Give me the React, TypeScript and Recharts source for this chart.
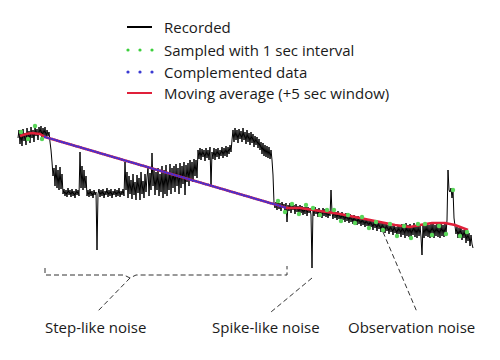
import { ComposedChart, Line, XAxis, YAxis } from 'recharts';

// =============================================================================
// Data (t = time step, v = signal level)
// =============================================================================

const recorded: [number, number][] = [
  // start, before the step noise
  [18, 122], [19, 130], [20, 116], [21, 128], [22, 114], [23, 131], [24, 119], [25, 127],
  [26, 115], [27, 132], [28, 121], [29, 129], [30, 117], [31, 133], [32, 122], [33, 130],
  [34, 118], [35, 134], [36, 124], [37, 131], [38, 120], [39, 133], [40, 125], [41, 134],
  [42, 121], [43, 132], [44, 124], [45, 133], [46, 122], [47, 130], [48, 124],
  // first drop
  [49, 128], [50, 118], [51, 110], [52, 98], [53, 84], [54, 92], [55, 74], [56, 95],
  [57, 72], [58, 90], [59, 70], [60, 93], [61, 71], [62, 86],
  [63, 66], [64, 71], [65, 64], [66, 70], [67, 63], [68, 72], [69, 65], [70, 70],
  [71, 63], [72, 71], [73, 64], [74, 69], [75, 62], [76, 71], [77, 65], [78, 70],
  [79, 64], [80, 108], [81, 72], [82, 94], [83, 70], [84, 90], [85, 72], [86, 84],
  [87, 64], [88, 70], [89, 63], [90, 71], [91, 64], [92, 69], [93, 62], [94, 70],
  [95, 65], [96, 68], [97, 10], [98, 66], [99, 71], [100, 63], [101, 70], [102, 64],
  [103, 71], [104, 62], [105, 69], [106, 65], [107, 72], [108, 63], [109, 70], [110, 64],
  [111, 71], [112, 62], [113, 69], [114, 65], [115, 71], [116, 63], [117, 70], [118, 64],
  [119, 72], [120, 63], [121, 69], [122, 65], [123, 71], [124, 64], [125, 98],
  [126, 70], [127, 88], [128, 62], [129, 84], [130, 66], [131, 80], [132, 61], [133, 86],
  [134, 65], [135, 78], [136, 60], [137, 85], [138, 67], [139, 82], [140, 60], [141, 88],
  [142, 66], [143, 79], [144, 62], [145, 86], [146, 68], [147, 83], [148, 92], [149, 64],
  [150, 87], [151, 70], [152, 107],
  [153, 74], [154, 90], [155, 65], [156, 88], [157, 70], [158, 92], [159, 64], [160, 86],
  [161, 68], [162, 94], [163, 62], [164, 90], [165, 66], [166, 95], [167, 64], [168, 88],
  [169, 70], [170, 96], [171, 66], [172, 92], [173, 72], [174, 94], [175, 68], [176, 96],
  [177, 74], [178, 92], [179, 66], [180, 97], [181, 72], [182, 94], [183, 76], [184, 98],
  [185, 65], [186, 95], [187, 78], [188, 97], [189, 74], [190, 100], [191, 80], [192, 98],
  [193, 78], [194, 101], [195, 84], [196, 100], [197, 82],
  // raised steps
  [198, 110], [199, 101], [200, 112], [201, 100], [202, 111], [203, 103], [204, 110], [205, 99],
  [206, 112], [207, 102], [208, 110], [209, 100], [210, 113], [211, 73], [212, 108], [213, 101],
  [214, 112], [215, 100], [216, 111], [217, 103], [218, 112], [219, 101], [220, 110], [221, 104],
  [222, 113], [223, 102], [224, 112], [225, 104], [226, 114], [227, 103], [228, 113], [229, 106],
  [230, 115], [231, 108],
  [232, 120], [233, 130], [234, 118], [235, 132], [236, 120], [237, 130], [238, 117], [239, 131],
  [240, 121], [241, 129], [242, 118], [243, 132], [244, 120], [245, 128], [246, 116], [247, 130],
  [248, 118], [249, 127], [250, 115], [251, 128], [252, 117], [253, 126], [254, 113], [255, 124],
  [256, 115], [257, 123], [258, 112], [259, 121],
  [260, 110], [261, 118], [262, 106], [263, 117], [264, 104], [265, 115], [266, 103], [267, 114],
  [268, 102], [269, 113], [270, 101], [271, 110], [272, 100], [273, 85], [274, 57],
  // back on track
  [275, 52], [276, 58], [277, 50], [278, 59], [279, 51], [280, 57], [281, 49], [282, 58],
  [283, 52], [284, 56], [285, 48], [286, 57], [287, 38], [288, 55], [289, 49], [290, 57],
  [291, 47], [292, 56], [293, 50], [294, 55], [295, 46], [296, 56], [297, 48], [298, 54],
  [299, 46], [300, 55], [301, 47], [302, 54], [303, 45], [304, 53], [305, 46], [306, 55],
  [307, 44], [308, 53], [309, 47], [310, 52], [311, 45], [312, -8], [313, 52], [314, 44],
  [315, 53], [316, 46], [317, 51], [318, 43], [319, 52], [320, 45], [321, 50], [322, 42],
  [323, 52], [324, 44], [325, 51], [326, 43], [327, 50], [328, 42], [329, 49], [330, 44],
  [331, 70], [332, 48], [333, 41], [334, 50], [335, 42], [336, 48], [337, 40], [338, 49],
  [339, 41], [340, 47], [341, 39], [342, 48], [343, 40], [344, 46], [345, 38], [346, 47],
  [347, 39], [348, 45], [349, 37], [350, 46], [351, 38], [352, 44], [353, 36], [354, 45],
  [355, 37], [356, 43], [357, 35], [358, 44], [359, 36], [360, 42], [361, 34], [362, 43],
  [363, 35], [364, 41], [365, 33], [366, 42], [367, 34], [368, 40], [369, 32], [370, 41],
  [371, 33], [372, 39], [373, 30], [374, 40], [375, 32], [376, 38], [377, 29], [378, 39],
  [379, 31], [380, 37], [381, 28], [382, 38], [383, 30], [384, 36], [385, 27], [386, 37],
  [387, 29], [388, 35], [389, 26], [390, 36], [391, 28], [392, 34], [393, 25], [394, 36],
  [395, 27], [396, 33], [397, 24], [398, 35], [399, 26], [400, 34], [401, 23], [402, 36],
  [403, 25], [404, 34], [405, 22], [406, 37], [407, 24], [408, 35], [409, 23], [410, 36],
  [411, 22], [412, 34], [413, 25], [414, 37], [415, 23], [416, 35], [417, 22], [418, 36],
  [419, 24], [420, 34], [421, 23], [422, 5], [423, 35], [424, 22], [425, 36], [426, 24],
  [427, 37], [428, 23], [429, 35], [430, 22], [431, 36], [432, 25], [433, 37], [434, 22],
  [435, 35], [436, 24], [437, 36], [438, 23], [439, 34], [440, 22], [441, 37], [442, 24],
  [443, 35], [444, 23], [445, 36], [446, 26], [447, 40], [448, 90], [449, 70], [450, 68],
  [451, 72], [452, 62], [453, 70], [454, 42], [455, 34], [456, 26], [457, 33], [458, 22],
  [459, 32], [460, 24], [461, 33], [462, 20], [463, 30], [464, 22], [465, 31], [466, 17],
  [467, 28], [468, 19], [469, 27], [470, 14], [471, 25], [472, 16], [473, 12],
];

const movingAverage: [number, number][] = [
  [20, 124], [26, 126], [32, 127], [40, 126], [45, 123], [287, 52], [300, 52], [320, 49],
  [340, 46], [355, 43], [375, 39], [395, 35], [410, 33], [420, 35], [432, 37], [445, 37],
  [455, 35], [468, 30],
];

const complemented: [number, number][] = [[45, 123], [287, 52]];

// sampled segments: where the recording is trusted
const sampledRanges: [number, number][] = [[18, 46], [276, 473]];

// annotation leaders
const stepBracket: [number, number][] = [
  [45, -8], [45, -15], [124, -15], [130, -18], [136, -15], [287, -15], [287, -6],
];
const stepLeader: [number, number][] = [[130, -18], [97, -52]];
const spikeLeader: [number, number][] = [[312, -18], [271, -52]];
const observationLeader: [number, number][] = [[383, 28], [417, -52]];

const noiseLabels = [
  { text: 'Step-like noise', left: 45 },
  { text: 'Spike-like noise', left: 212 },
  { text: 'Observation noise', left: 348 },
];

const legendItems = [
  { label: 'Recorded', kind: 'line', color: '#000000' },
  { label: 'Sampled with 1 sec interval', kind: 'dots', color: '#3ccf3c' },
  { label: 'Complemented data', kind: 'dots', color: '#3a3ad2' },
  { label: 'Moving average (+5 sec window)', kind: 'line', color: '#e0203a' },
];

// =============================================================================
// Helpers
// =============================================================================

const rows = (pts: [number, number][]) => pts.map(([t, v]) => ({ t, v }));

const sampled = rows(recorded)
  .filter((d) => sampledRanges.some(([a, b]) => d.t >= a && d.t <= b))
  .filter((_, i) => i % 7 === 3);

const FONT = '"Open Sans", "Noto Sans", sans-serif';
const LEGEND_Y = [27, 50, 72, 93];

// =============================================================================
// Component
// =============================================================================

export default function App() {
  const dashed = {
    stroke: '#333',
    strokeWidth: 1,
    strokeDasharray: '5 3',
    dot: false,
    activeDot: false,
    isAnimationActive: false,
  };

  return (
    <div style={{ position: 'absolute', left: 0, top: 0, width: 500, height: 360, background: '#fff', fontFamily: FONT }}>
      <ComposedChart width={500} height={360} margin={{ top: 0, right: 0, bottom: 0, left: 0 }}>
        <XAxis type="number" dataKey="t" domain={[0, 500]} hide allowDataOverflow />
        <YAxis type="number" domain={[-100, 260]} hide allowDataOverflow />

        <Line data={rows(stepBracket)} dataKey="v" {...dashed} />
        <Line data={rows(stepLeader)} dataKey="v" {...dashed} />
        <Line data={rows(spikeLeader)} dataKey="v" {...dashed} />
        <Line data={rows(observationLeader)} dataKey="v" {...dashed} />

        <Line
          data={rows(recorded)}
          dataKey="v"
          stroke="#000"
          strokeWidth={1}
          dot={false}
          activeDot={false}
          isAnimationActive={false}
        />
        <Line
          data={rows(movingAverage)}
          dataKey="v"
          stroke="#e0203a"
          strokeWidth={2.5}
          dot={false}
          activeDot={false}
          isAnimationActive={false}
        />
        <Line
          data={rows(complemented)}
          dataKey="v"
          stroke="#4630d0"
          strokeWidth={2.5}
          strokeDasharray="0 2.5"
          strokeLinecap="round"
          dot={false}
          activeDot={false}
          isAnimationActive={false}
        />
        <Line
          data={sampled}
          dataKey="v"
          stroke="none"
          dot={{ r: 2.2, fill: '#5ad65a', stroke: 'none' }}
          activeDot={false}
          isAnimationActive={false}
        />
      </ComposedChart>

      {/* Legend */}
      {legendItems.map((item, i) => (
        <div
          key={item.label}
          style={{ position: 'absolute', left: 125, top: LEGEND_Y[i] - 10, height: 20, display: 'flex', alignItems: 'center' }}
        >
          <svg width={30} height={20} style={{ display: 'block' }}>
            {item.kind === 'line' ? (
              <line x1={2} x2={27} y1={10} y2={10} stroke={item.color} strokeWidth={2} />
            ) : (
              [3, 15, 27].map((cx) => <circle key={cx} cx={cx} cy={10} r={1.6} fill={item.color} />)
            )}
          </svg>
          <span style={{ marginLeft: 9, fontSize: 15, lineHeight: '20px', color: '#1a1a1a', whiteSpace: 'nowrap' }}>
            {item.label}
          </span>
        </div>
      ))}

      {/* Noise labels */}
      {noiseLabels.map((l) => (
        <div
          key={l.text}
          style={{ position: 'absolute', left: l.left, top: 317, fontSize: 15, lineHeight: '20px', color: '#1a1a1a', whiteSpace: 'nowrap' }}
        >
          {l.text}
        </div>
      ))}
    </div>
  );
}
